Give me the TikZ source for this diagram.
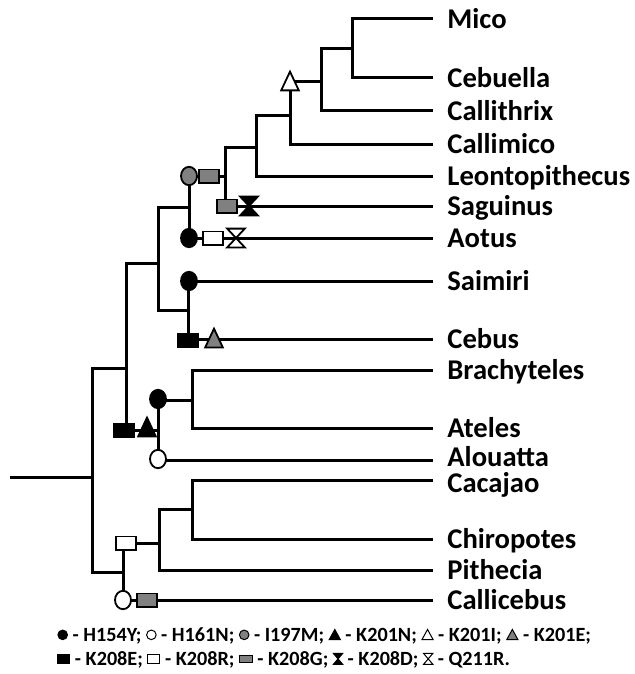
\documentclass[tikz,border=0pt]{standalone}
\usepackage{fontspec}
\setmainfont{Carlito}
\usetikzlibrary{positioning,shapes.geometric}

% small key symbols for the legend line
\newcommand{\ldot}[1]{\tikz[baseline=-0.33em]\filldraw[line width=0.5pt, fill=#1] (0,0) circle (2.4pt);}
\newcommand{\ltri}[1]{\tikz[baseline=-0.33em]\filldraw[line width=0.5pt, fill=#1] (-2.8pt,-2.4pt) -- (2.8pt,-2.4pt) -- (0,2.7pt) -- cycle;}
\newcommand{\lbox}[3]{\tikz[baseline=-0.33em]\filldraw[line width=0.5pt, fill=#1] (-#2,-#3) rectangle (#2,#3);}
\newcommand{\lhour}[1]{\tikz[baseline=-0.33em]\filldraw[line width=0.5pt, fill=#1] (-2.3pt,2.7pt) -- (2.3pt,2.7pt) -- (-2.3pt,-2.7pt) -- (2.3pt,-2.7pt) -- cycle;}

\begin{document}
\begin{tikzpicture}[
    x=0.5pt, y=-0.5pt,
    br/.style={line width=1.5pt, line join=miter},
    lab/.style={font=\fontsize{14.3}{17}\selectfont\bfseries, inner sep=0pt,
                text height=9.2pt, text depth=0pt},
    legend/.style={font=\fontsize{10.1}{12}\selectfont\bfseries, inner sep=0pt,
                   align=left},
    mk/.style={draw, line width=0.9pt, inner sep=0pt},
    mkdot/.style={mk, ellipse, minimum width=8pt, minimum height=9.2pt},
    mkbox/.style={mk, rectangle, minimum width=10.2pt, minimum height=6.6pt},
    mkframe/.style={inner sep=0pt, minimum width=8.4pt, minimum height=9pt}
]
    \useasboundingbox (0,0) rectangle (635,674);

    % tips and genus names
    \foreach \n/\y/\s in {Mico/19/0, Cebuella/78/0, Callithrix/111/0, Callimico/144/0,
                       Leontopithecus/176/0, Saguinus/206/0, Aotus/238/0, Saimiri/281/0,
                       Cebus/339/0, Brachyteles/370/0, Ateles/428/0, Alouatta/460/1.5,
                       Cacajao/480/-1.5, Chiropotes/539/0, Pithecia/570/0, Callicebus/600/0}{
        \coordinate (t\n) at (433,\y);
        \node[lab, right=7pt of t\n, yshift=\s pt] (l\n) {\n};
    }

    % junctions
    \coordinate (n1)  at (352,49);
    \coordinate (n2)  at (321,82);
    \coordinate (n3)  at (290,116);
    \coordinate (n4)  at (256,147);
    \coordinate (n5)  at (225,176);
    \coordinate (n6)  at (189,207);
    \coordinate (n7)  at (188,310);
    \coordinate (n8)  at (158,263);
    \coordinate (n9)  at (192,400);
    \coordinate (n10) at (158,430);
    \coordinate (n11) at (126,368);
    \coordinate (n12) at (192,509);
    \coordinate (n13) at (159,543);
    \coordinate (n14) at (123,572);
    \coordinate (n15) at (92,477);
    \coordinate (root) at (10,477);

    \draw[br] (tMico) -| (n1) |- (tCebuella);
    \draw[br] (n1) -| (n2) |- (tCallithrix);
    \draw[br] (n2) -| (n3) |- (tCallimico);
    \draw[br] (n3) -| (n4) |- (tLeontopithecus);
    \draw[br] (n4) -| (n5) |- (tSaguinus);
    \draw[br] (n5) -| (n6) |- (tAotus);
    \draw[br] (tSaimiri) -| (n7) |- (tCebus);
    \draw[br] (n6) -| (n8) |- (n7);
    \draw[br] (tBrachyteles) -| (n9) |- (tAteles);
    \draw[br] (n9) -| (n10) |- (tAlouatta);
    \draw[br] (n8) -| (n11) |- (n10);
    \draw[br] (tCacajao) -| (n12) |- (tChiropotes);
    \draw[br] (n12) -| (n13) |- (tPithecia);
    \draw[br] (n13) -| (n14) |- (tCallicebus);
    \draw[br] (n11) -| (n15) |- (n14);
    \draw[br] (root) -- (n15);

    % substitutions on the branches
    \node[mkdot, fill=gray]  (cI197)  at (189,176) {};
    \node[mkbox, fill=gray]  (rG1)    at (209,176) {};
    \node[mkbox, fill=gray]  (rG2)    at (227,206) {};
    \node[mkdot, fill=black] (cH1)    at (189,238) {};
    \node[mkbox, fill=white] (rR1)    at (213,238) {};
    \node[mkdot, fill=black] (cH2)    at (189,281) {};
    \node[mkbox, fill=black] (rE1)    at (188,340) {};
    \node[mkdot, fill=black] (cH3)    at (158,399) {};
    \node[mkdot, fill=white] (cN1)    at (158,459) {};
    \node[mkbox, fill=black] (rE2)    at (124,430) {};
    \node[mkbox, fill=white] (rR2)    at (126,543) {};
    \node[mkdot, fill=white] (cN2)    at (123,600) {};
    \node[mkbox, fill=gray]  (rG3)    at (147,600) {};

    \node[mkframe] (tI)   at (290,81)  {};
    \node[mkframe] (tE)   at (214,338) {};
    \node[mkframe] (tN)   at (147,427) {};
    \node[mkframe] (hD)   at (249,206) {};
    \node[mkframe] (hQ)   at (236,238) {};
    \foreach \t/\c in {tI/white, tE/gray, tN/black}
        \draw[mk, fill=\c] (\t.south west) -- (\t.south east) -- (\t.north) -- cycle;
    \foreach \h/\c in {hD/black, hQ/white}
        \draw[mk, fill=\c] (\h.north west) -- (\h.north east) -- (\h.south west) -- (\h.south east) -- cycle;

    % key
    \node[legend, anchor=west] (key) at (57,648)
        {\ldot{black} - H154Y; \ldot{white} - H161N; \ldot{gray} - I197M; \ltri{black} - K201N; \ltri{white} - K201I; \ltri{gray} - K201E;\\
         \lbox{black}{3pt}{2.4pt} - K208E; \lbox{white}{3pt}{2.4pt} - K208R; \lbox{gray}{3.2pt}{1.9pt} - K208G; \lhour{black} - K208D; \lhour{white} - Q211R.};
\end{tikzpicture}
\end{document}
